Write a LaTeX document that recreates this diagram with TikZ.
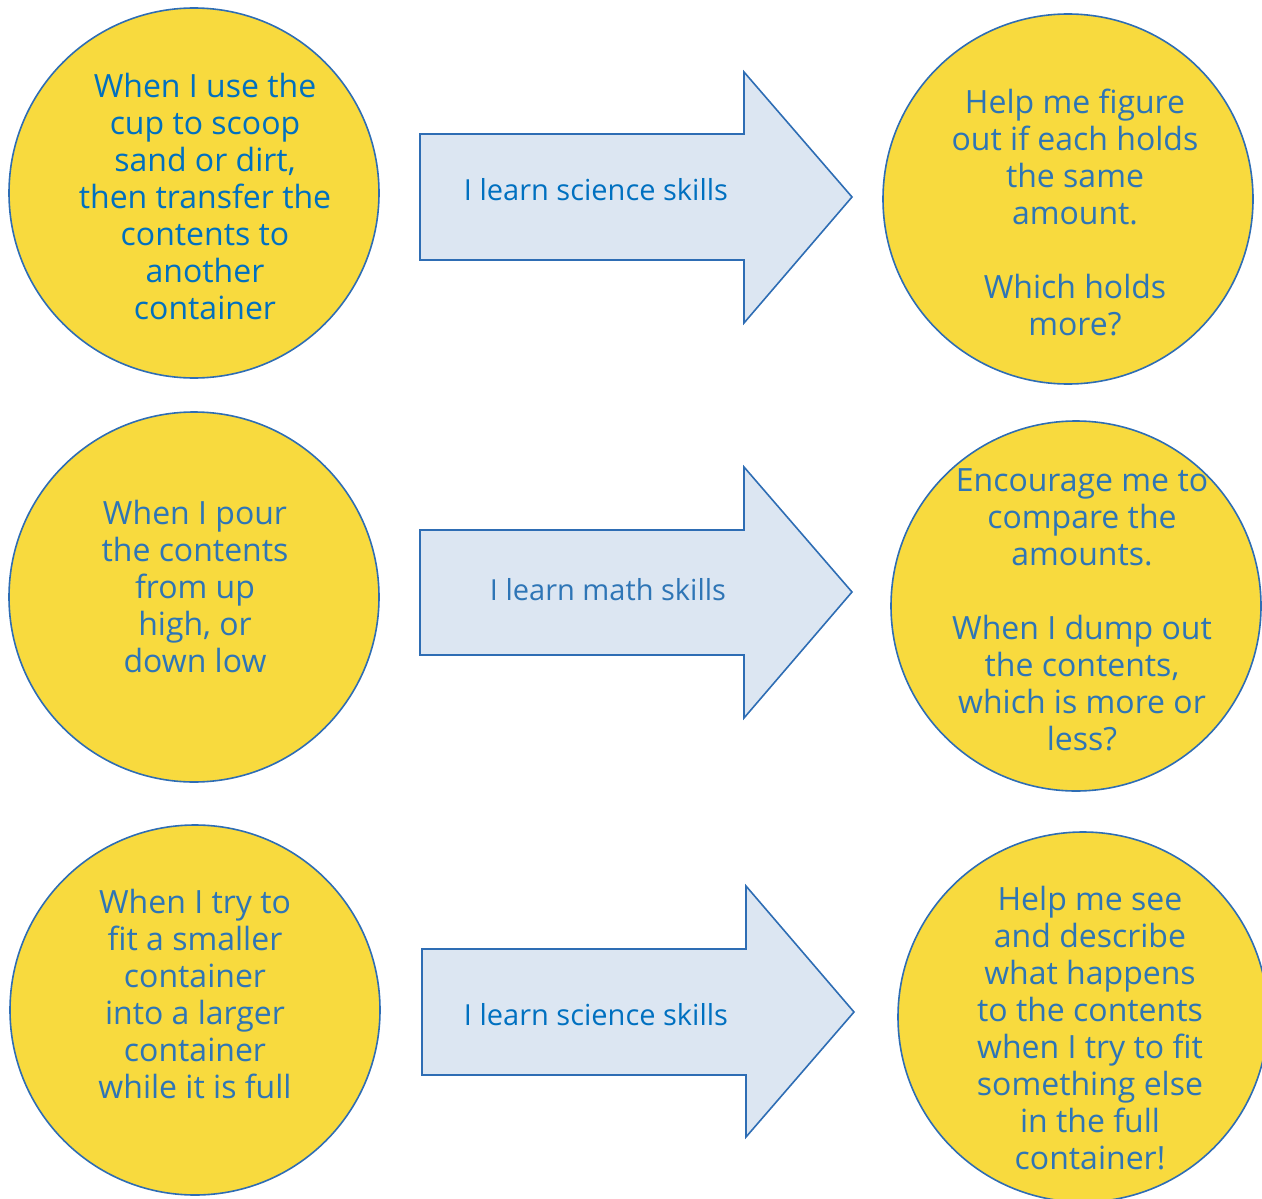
\documentclass[tikz,border=0pt]{standalone}
\usepackage{fontspec}
\setmainfont{Open Sans}
\definecolor{cfill}{HTML}{F8DA3E}
\definecolor{cline}{HTML}{2E6DB4}
\definecolor{afill}{HTML}{DCE6F2}
\definecolor{tblue}{HTML}{0070C0}
\definecolor{tblue2}{HTML}{2E75B6}
\begin{document}
\begin{tikzpicture}[x=1pt,y=-1pt,
  bubble/.style={circle,draw=cline,fill=cfill,line width=1.6pt,minimum size=370pt,inner sep=0pt},
  txt/.style={align=center,font=\fontsize{32}{37}\selectfont,inner sep=0pt},
  atxt/.style={align=center,font=\fontsize{29}{37}\selectfont,inner sep=0pt},
  barrow/.style={draw=cline,fill=afill,line width=1.6pt,line join=miter}]
\useasboundingbox (0,0) rectangle (1262,1199);
% circles
\node[bubble] (c1) at (194,193) {};
\node[bubble] (c2) at (1068,199) {};
\node[bubble] (c3) at (194,597) {};
\node[bubble] (c4) at (1076,606) {};
\node[bubble] (c5) at (195,1010) {};
\node[bubble] (c6) at (1083,1017) {};
% arrows
\draw[barrow] (420,134) -- (744,134) -- (744,72) -- (852,197) -- (744,323) -- (744,260) -- (420,260) -- cycle;
\draw[barrow] (420,530) -- (744,530) -- (744,467) -- (852,592) -- (744,718) -- (744,655) -- (420,655) -- cycle;
\draw[barrow] (422,949) -- (746,949) -- (746,886) -- (854,1012) -- (746,1137) -- (746,1075) -- (422,1075) -- cycle;
% texts
\node[txt,text=tblue] (t1) at (205,196) {When I use the\\cup to scoop\\sand or dirt,\\then transfer the\\contents to\\another\\container};
\node[txt,text=tblue2] (t2) at (1075,212) {Help me figure\\out if each holds\\the same\\amount.\\[37pt]Which holds\\more?};
\node[txt,text=tblue2] (t3) at (195,586) {When I pour\\the contents\\from up\\high, or\\down low};
\node[txt,text=tblue2] (t4) at (1082,610) {Encourage me to\\compare the\\amounts.\\[37pt]When I dump out\\the contents,\\which is more or\\less?};
\node[txt,text=tblue2] (t5) at (195,994) {When I try to\\fit a smaller\\container\\into a larger\\container\\while it is full};
\node[txt,text=tblue2] (t6) at (1090,1028) {Help me see\\and describe\\what happens\\to the contents\\when I try to fit\\something else\\in the full\\container!};
\node[atxt,text=tblue] (a1) at (596,190) {I learn science skills};
\node[atxt,text=tblue2] (a2) at (608,590) {I learn math skills};
\node[atxt,text=tblue] (a3) at (596,1015) {I learn science skills};
\end{tikzpicture}
\end{document}
